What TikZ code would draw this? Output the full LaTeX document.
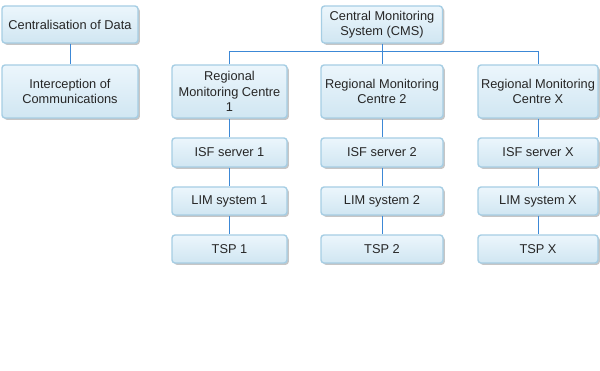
\documentclass[tikz,border=0pt]{standalone}
\usepackage{fontspec}
\setmainfont{Liberation Sans}
\usetikzlibrary{shadows}
\definecolor{boxTop}{RGB}{236, 246, 252}
\definecolor{boxBottom}{RGB}{208, 230, 242}
\definecolor{boxBorder}{RGB}{166, 206, 228}
\definecolor{linkBlue}{RGB}{60, 136, 214}
\tikzset{
  box/.style={draw=boxBorder, line width=1.4pt, rounded corners=3pt,
    top color=boxTop, bottom color=boxBottom, align=center,
    text=black!85, inner sep=0pt,
    font=\fontsize{12.8}{15.5}\selectfont,
    drop shadow={shadow xshift=1.8pt, shadow yshift=-1.8pt, opacity=0.45, fill=gray}},
  link/.style={draw=linkBlue, line width=1pt}
}

\begin{document}
\begin{tikzpicture}[x=1pt, y=-1pt]
        \useasboundingbox (0,0) rectangle (600,371);
        % Left column
        \node[box, minimum width=136pt, minimum height=37pt] (cod) at (70,24.5) {Centralisation of Data};
        \node[box, minimum width=136pt, minimum height=53pt] (ioc) at (70,91.5) {Interception of\\Communications};
        \draw[link] (cod) -- (ioc);
        
        % Top of the tree
        \node[box, minimum width=121pt, minimum height=37pt] (cms) at (382,24.5) {Central Monitoring\\System (CMS)};
        \coordinate (bus) at (0,52);
        
        % Regional centres
        \node[box, minimum width=115pt, minimum height=53pt] (rmc1) at (229.5,91.5) {Regional\\Monitoring Centre\\1};
        \node[box, minimum width=122pt, minimum height=53pt] (rmc2) at (382,91.5) {Regional Monitoring\\Centre 2};
        \node[box, minimum width=120pt, minimum height=53pt] (rmcX) at (538,91.5) {Regional Monitoring\\Centre X};
        
        % Chains below each centre
        \foreach \c/\x/\w in {1/229.5/115, 2/382/122, X/538/120} {
            \node[box, minimum width=\w pt, minimum height=29pt] (isf\c) at (\x,152.5) {ISF server \c};
            \node[box, minimum width=\w pt, minimum height=28pt] (lim\c) at (\x,201) {LIM system \c};
            \node[box, minimum width=\w pt, minimum height=28pt] (tsp\c) at (\x,249) {TSP \c};
            \draw[link] (rmc\c) -- (isf\c);
            \draw[link] (isf\c) -- (lim\c);
            \draw[link] (lim\c) -- (tsp\c);
        }
        
        % Connectors from the CMS
        \draw[link] (cms) -- (rmc2);
        \draw[link] (rmc1.north) -- (rmc1.north |- bus) -- (rmcX.north |- bus) -- (rmcX.north);
    \end{tikzpicture}
\end{document}
